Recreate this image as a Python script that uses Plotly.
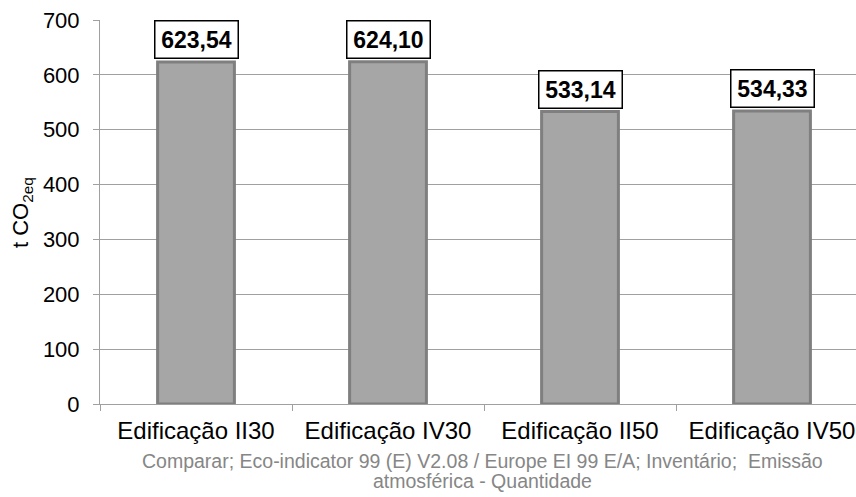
import plotly.graph_objects as go

categories = ["Edificação II30", "Edificação IV30", "Edificação II50", "Edificação IV50"]
values = [623.54, 624.10, 533.14, 534.33]
y_ticks = [0, 100, 200, 300, 400, 500, 600, 700]
caption_lines = [
    "Comparar; Eco-indicator 99 (E) V2.08 / Europe EI 99 E/A; Inventário;  Emissão",
    "atmosférica - Quantidade",
]

W, H = 856, 497
ML, MR, MT, MB = 100, 0, 20, 93
plot_w = W - ML - MR
plot_h = H - MT - MB
CAT_PX = 192.0  # width of one category slot

FONT = "Liberation Sans, Arial, sans-serif"

def fmt(v):
    return f"{v:.2f}".replace(".", ",")

def py(pixel_y):
    """pixel row -> paper y"""
    return (H - MB - pixel_y) / plot_h

def px(pixel_x):
    """pixel column -> paper x"""
    return (pixel_x - ML) / plot_w

fig = go.Figure()
fig.add_trace(go.Bar(
    x=categories,
    y=values,
    width=0.40,
    marker=dict(color="#a6a6a6", line=dict(color="#7f7f7f", width=3)),
    hoverinfo="skip",
))

# boxed value labels above each bar
for c, v in zip(categories, values):
    fig.add_annotation(
        x=c, y=v, xref="x", yref="y",
        text=f"<b>{fmt(v)}</b>",
        showarrow=False,
        yanchor="bottom", yshift=3,
        width=80, height=34,
        font=dict(family=FONT, size=23, color="black"),
        bgcolor="white", bordercolor="black", borderwidth=1.5, borderpad=1,
    )

# y-axis title
fig.add_annotation(
    xref="paper", yref="paper", x=px(22), y=py(213),
    text="t CO<sub>2eq</sub>", textangle=-90, showarrow=False,
    xanchor="center", yanchor="middle",
    font=dict(family=FONT, size=22, color="black"),
)

# source caption, one annotation per line
for line, base in zip(caption_lines, [468, 488.5]):
    fig.add_annotation(
        xref="paper", yref="paper", x=px(482), y=py(base - 7.5),
        text=line, showarrow=False, xanchor="center", yanchor="middle",
        font=dict(family=FONT, size=19.5, color="#868686"),
    )

fig.update_layout(
    width=W, height=H,
    margin=dict(l=ML, r=MR, t=MT, b=MB, pad=0),
    paper_bgcolor="white", plot_bgcolor="white",
    showlegend=False,
    xaxis=dict(
        type="category",
        range=[-0.5, -0.5 + plot_w / CAT_PX],
        tickson="boundaries",
        ticks="outside", ticklen=6, tickcolor="#a0a0a0",
        showline=True, linecolor="#a0a0a0", linewidth=1,
        showgrid=False,
        ticklabelstandoff=5,
        tickfont=dict(family=FONT, size=24, color="black"),
    ),
    yaxis=dict(
        range=[0, 700],
        tickvals=y_ticks,
        ticks="outside", ticklen=6, tickcolor="#a0a0a0",
        showline=True, linecolor="#a0a0a0", linewidth=1,
        showgrid=True, gridcolor="#a0a0a0", gridwidth=1,
        zeroline=False,
        ticklabelstandoff=9,
        tickfont=dict(family=FONT, size=22, color="black"),
    ),
)

fig.write_html("out.html")
